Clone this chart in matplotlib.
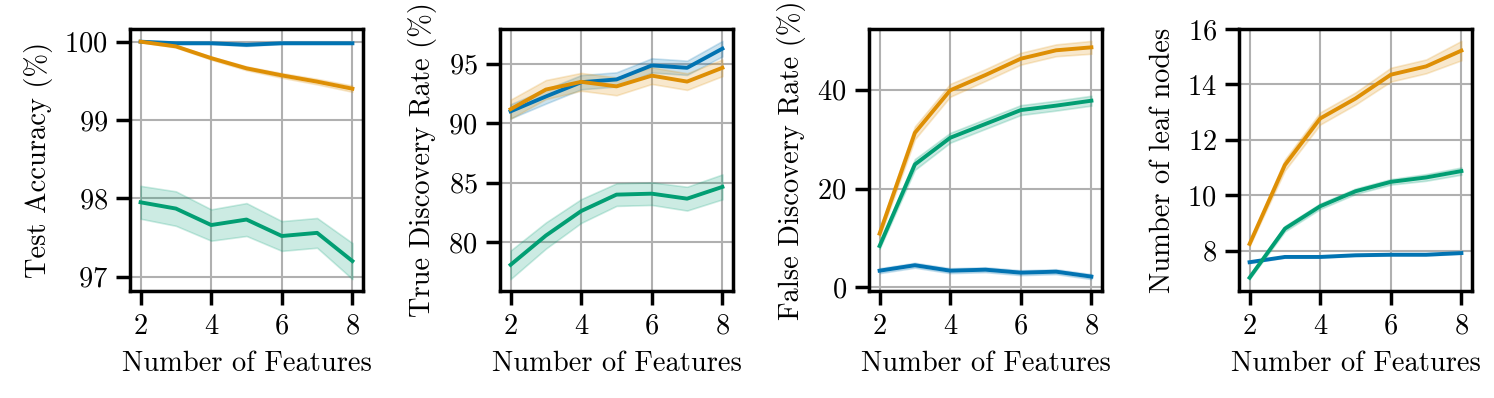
import matplotlib
matplotlib.use("Agg")
import matplotlib.pyplot as plt
import numpy as np

plt.rcParams['font.family'] = ['cmr10', 'DejaVu Serif']
plt.rcParams['mathtext.fontset'] = 'cm'
plt.rcParams['axes.formatter.use_mathtext'] = True

features = [2, 3, 4, 5, 6, 7, 8]
colors = {"blue": "#0173b2", "orange": "#de8f05", "green": "#029e73"}

# Test accuracy (%)
acc_blue = [100.0, 99.98, 99.98, 99.96, 99.98, 99.98, 99.98]
acc_blue_err = [0.01, 0.01, 0.01, 0.015, 0.01, 0.01, 0.01]
acc_orange = [100.0, 99.94, 99.79, 99.66, 99.57, 99.49, 99.40]
acc_orange_err = [0.005, 0.015, 0.02, 0.025, 0.03, 0.035, 0.04]
acc_green = [97.95, 97.87, 97.66, 97.73, 97.52, 97.56, 97.20]
acc_green_err = [0.21, 0.22, 0.20, 0.21, 0.19, 0.19, 0.23]

# True discovery rate (%)
tdr_blue = [91.0, 92.25, 93.45, 93.68, 94.86, 94.66, 96.27]
tdr_blue_err = [0.6, 0.6, 0.6, 0.6, 0.6, 0.6, 0.65]
tdr_orange = [91.18, 92.83, 93.48, 93.1, 94.0, 93.5, 94.66]
tdr_orange_err = [0.8, 0.8, 0.75, 0.75, 0.7, 0.7, 0.7]
tdr_green = [78.1, 80.56, 82.62, 84.0, 84.08, 83.66, 84.65]
tdr_green_err = [1.2, 1.1, 1.0, 0.95, 0.95, 1.0, 1.05]

# False discovery rate (%)
fdr_blue = [3.4, 4.5, 3.4, 3.6, 3.0, 3.2, 2.2]
fdr_blue_err = [0.5, 0.5, 0.5, 0.5, 0.5, 0.5, 0.5]
fdr_orange = [10.9, 31.3, 39.9, 43.0, 46.3, 48.0, 48.6]
fdr_orange_err = [0.8, 1.3, 1.3, 1.2, 1.2, 1.2, 1.3]
fdr_green = [8.4, 24.9, 30.3, 33.1, 35.9, 36.8, 37.8]
fdr_green_err = [0.6, 1.1, 1.0, 1.0, 1.0, 1.0, 1.0]

# Number of leaf nodes
leaf_blue = [7.58, 7.77, 7.77, 7.83, 7.85, 7.85, 7.91]
leaf_blue_err = [0.03, 0.03, 0.03, 0.03, 0.03, 0.03, 0.03]
leaf_orange = [8.24, 11.09, 12.77, 13.49, 14.35, 14.65, 15.22]
leaf_orange_err = [0.08, 0.2, 0.22, 0.22, 0.25, 0.25, 0.35]
leaf_green = [7.02, 8.79, 9.6, 10.14, 10.48, 10.64, 10.87]
leaf_green_err = [0.05, 0.1, 0.1, 0.1, 0.1, 0.12, 0.13]

panels = [
    ("Test Accuracy (%)", [(acc_blue, acc_blue_err, "blue"), (acc_orange, acc_orange_err, "orange"), (acc_green, acc_green_err, "green")], [97, 98, 99, 100]),
    ("True Discovery Rate (%)", [(tdr_blue, tdr_blue_err, "blue"), (tdr_orange, tdr_orange_err, "orange"), (tdr_green, tdr_green_err, "green")], [80, 85, 90, 95]),
    ("False Discovery Rate (%)", [(fdr_blue, fdr_blue_err, "blue"), (fdr_orange, fdr_orange_err, "orange"), (fdr_green, fdr_green_err, "green")], [0, 20, 40]),
    ("Number of leaf nodes", [(leaf_blue, leaf_blue_err, "blue"), (leaf_orange, leaf_orange_err, "orange"), (leaf_green, leaf_green_err, "green")], [8, 10, 12, 14, 16]),
]

W, H = 1494, 398
fig = plt.figure(figsize=(W / 100, H / 100), dpi=100)
lefts = [130, 500, 869, 1239]
top_px, bot_px = 29, 291
fs = 20.5

x = np.array(features)
for left, (ylabel, series, yticks) in zip(lefts, panels):
    ax = fig.add_axes([left / W, (H - bot_px) / H, 233 / W, (bot_px - top_px) / H])
    for vals, err, c in series:
        v = np.array(vals)
        e = np.array(err)
        ax.fill_between(x, v - e, v + e, color=colors[c], alpha=0.2, linewidth=1.2)
        ax.plot(x, v, color=colors[c], linewidth=2.8)
    ax.set_xticks([2, 4, 6, 8])
    ax.set_yticks(yticks)
    ax.grid(True, color="#b0b0b0", linewidth=1.5)
    ax.set_axisbelow(True)
    for s in ax.spines.values():
        s.set_linewidth(2.5)
        s.set_color("black")
    ax.tick_params(direction="out", length=10, width=2.5, labelsize=fs, pad=6)
    ax.set_xlabel("Number of Features", fontsize=fs, labelpad=8)
    ax.set_ylabel(ylabel, fontsize=fs, labelpad=8)

fig.savefig("out.png", dpi=100)
